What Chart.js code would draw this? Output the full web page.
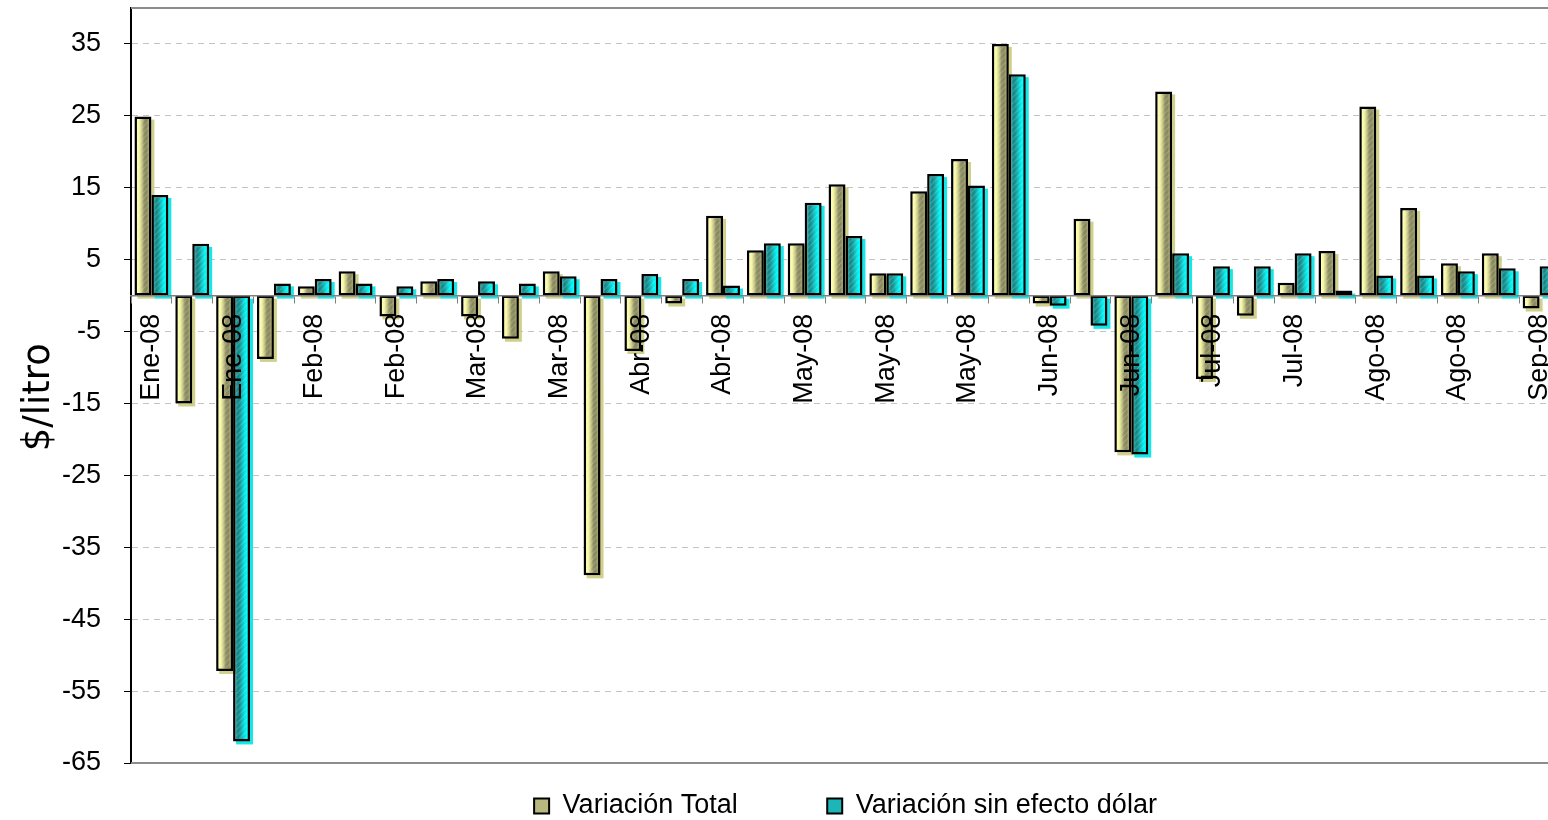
<!DOCTYPE html>
<html>
<head>
<meta charset="utf-8">
<script src="https://cdn.jsdelivr.net/npm/chart.js@4.4.1/dist/chart.umd.min.js"></script>
<style>
  html, body { margin: 0; padding: 0; overflow: hidden; background: #fff; }
  #wrap { width: 1560px; height: 820px; }
</style>
</head>
<body>
<div id="wrap"><canvas id="grafico"></canvas></div>
<script>
// datos (semanas, $/litro)
const categorias = [
  'Ene-08', 'Ene-08', 'Ene-08', 'Feb-08', 'Feb-08', 'Feb-08', 'Feb-08',
  'Mar-08', 'Mar-08', 'Mar-08', 'Mar-08', 'Abr-08', 'Abr-08', 'Abr-08',
  'Abr-08', 'May-08', 'May-08', 'May-08', 'May-08', 'May-08', 'May-08',
  'Jun-08', 'Jun-08', 'Jun-08', 'Jun-08', 'Jul-08', 'Jul-08', 'Jul-08',
  'Jul-08', 'Ago-08', 'Ago-08', 'Ago-08', 'Ago-08', 'Sep-08', 'Sep-08'
];
const variacionTotal = [
  24.9, -15.0, -52.2, -8.8, 1.3, 3.4, -2.9, 2.0, -2.9, -6.0, 3.4, -38.9,
  -7.7, -1.1, 11.1, 6.3, 7.3, 15.5, 3.1, 14.5, 19.0, 35.0, -1.1, 10.7,
  -21.8, 28.4, -11.6, -2.8, 1.8, 6.2, 26.3, 12.2, 4.5, 5.9, -1.8
];
const variacionSinDolar = [
  14.0, 7.2, -62.0, 1.7, 2.3, 1.7, 1.3, 2.3, 2.0, 1.7, 2.7, 2.3,
  3.0, 2.3, 1.4, 7.3, 12.9, 8.3, 3.1, 16.9, 15.3, 30.8, -1.4, -4.2,
  -22.1, 5.9, 4.1, 4.1, 5.9, 0.7, 2.8, 2.8, 3.4, 3.8, 4.1
];
const ticksY = [-65, -55, -45, -35, -25, -15, -5, 5, 15, 25, 35];

const olivos = ['#ffffb4', '#f4f4a4', '#c8c888', '#909064', '#86865c', '#a4a472'];
const cianes = ['#2aa4a4', '#168484', '#169c9c', '#10c4c4', '#04ecec', '#00ffff'];

let patronRayado = null;
function rayado(ctx) {
  if (patronRayado) return patronRayado;
  const c = document.createElement('canvas');
  c.width = c.height = 6;
  const g = c.getContext('2d');
  g.strokeStyle = 'rgba(255,255,255,0.18)';
  g.lineWidth = 1.2;
  g.beginPath();
  g.moveTo(0, 6); g.lineTo(6, 0);
  g.moveTo(-1, 1); g.lineTo(1, -1);
  g.moveTo(5, 7); g.lineTo(7, 5);
  g.stroke();
  patronRayado = ctx.createPattern(c, 'repeat');
  return patronRayado;
}

// sombra desplazada, degradado horizontal por barra y rayado
const estiloBarras = {
  id: 'estiloBarras',
  beforeDatasetsDraw(chart) {
    const { ctx, chartArea: a } = chart;
    ctx.save();
    ctx.beginPath();
    ctx.rect(a.left, a.top, a.right - a.left, a.bottom - a.top);
    ctx.clip();
    chart.data.datasets.forEach((ds, i) => {
      ctx.fillStyle = ds.sombra;
      chart.getDatasetMeta(i).data.forEach(b => {
        const top = Math.min(b.y, b.base);
        ctx.fillRect(b.x - b.width / 2 + 3, top + 3, b.width, Math.abs(b.base - b.y));
        const x0 = b.x - b.width / 2 + 2.5, x1 = b.x + b.width / 2 - 2.5;
        const g = ctx.createLinearGradient(x0, 0, x1, 0);
        ds.degradado.forEach((col, k) => g.addColorStop(k / (ds.degradado.length - 1), col));
        b.options = Object.assign({}, b.options, { backgroundColor: g });
      });
    });
    ctx.restore();
  },
  afterDatasetsDraw(chart) {
    const ctx = chart.ctx;
    ctx.save();
    ctx.fillStyle = rayado(ctx);
    chart.data.datasets.forEach((ds, i) => {
      chart.getDatasetMeta(i).data.forEach(b => {
        const top = Math.min(b.y, b.base) + 3;
        const h = Math.abs(b.base - b.y) - 6;
        if (h > 0) ctx.fillRect(b.x - b.width / 2 + 3, top, b.width - 6, h);
      });
    });
    ctx.restore();
  }
};

const marco = {
  id: 'marco',
  afterDraw(chart) {
    const { ctx, chartArea: a } = chart;
    ctx.save();
    ctx.strokeStyle = '#8c8c8c';
    ctx.lineWidth = 2;
    ctx.beginPath();
    ctx.moveTo(a.left, a.top); ctx.lineTo(a.right, a.top);
    ctx.moveTo(a.left, a.bottom); ctx.lineTo(a.right, a.bottom);
    ctx.stroke();
    ctx.restore();
  }
};

Chart.defaults.font.family = "'Liberation Sans', Arial, sans-serif";
Chart.defaults.color = '#000';

new Chart(document.getElementById('grafico'), {
  type: 'bar',
  data: {
    labels: categorias,
    datasets: [
      {
        label: 'Variación Total',
        data: variacionTotal,
        backgroundColor: '#b8b87e',
        borderColor: '#000',
        borderWidth: 2.5,
        borderSkipped: false,
        degradado: olivos,
        sombra: 'rgba(200,200,120,0.85)'
      },
      {
        label: 'Variación sin efecto dólar',
        data: variacionSinDolar,
        backgroundColor: '#1cb6b6',
        borderColor: '#000',
        borderWidth: 2.5,
        borderSkipped: false,
        degradado: cianes,
        sombra: '#19e6e6'
      }
    ]
  },
  options: {
    responsive: true,
    maintainAspectRatio: false,
    animation: false,
    barPercentage: 1,
    categoryPercentage: 0.83,
    layout: { padding: { top: 8, left: 0, right: 0, bottom: 0 } },
    plugins: {
      tooltip: { enabled: false },
      legend: {
        position: 'bottom',
        fullSize: false,
        maxHeight: 57,
        labels: {
          font: { size: 27 },
          boxWidth: 15,
          boxHeight: 15,
          padding: 29.5,
          generateLabels(chart) {
            return chart.data.datasets.map((ds, i) => ({
              text: ds.label + (i === 0 ? ' '.repeat(8) : ''),
              fillStyle: ds.backgroundColor,
              strokeStyle: '#000',
              lineWidth: 2,
              fontColor: '#000',
              hidden: false,
              datasetIndex: i
            }));
          }
        }
      }
    },
    scales: {
      x: {
        type: 'category',
        position: { y: 0 },
        offset: true,
        afterFit(s) { s.paddingLeft = 0; s.paddingRight = 0; },
        border: { color: '#808080', width: 1.5, z: 1 },
        grid: {
          offset: true,
          drawOnChartArea: false,
          drawTicks: true,
          tickLength: 7,
          color: '#808080',
          z: 1
        },
        ticks: {
          autoSkip: false,
          minRotation: 90,
          maxRotation: 90,
          padding: 11,
          z: 1,
          font: { size: 27 },
          callback: (v, i) => (i % 2 === 0 ? categorias[i] : '')
        }
      },
      y: {
        min: -65,
        max: 40,
        afterBuildTicks(s) { s.ticks = ticksY.map(v => ({ value: v })); },
        afterFit(s) { s.width = 131; s.paddingTop = 0; s.paddingBottom = 0; },
        border: { color: '#000', width: 2, dash: [6, 5] },
        grid: {
          color: c => (c.tick && c.tick.value === -65 ? 'rgba(0,0,0,0)' : '#c4c4c4'),
          tickColor: '#000',
          tickLength: 7,
          tickBorderDash: []
        },
        ticks: {
          padding: 23,
          font: { size: 27 }
        },
        title: {
          display: true,
          text: '$/litro  ',
          font: { family: "'DejaVu Sans', sans-serif", size: 37 },
          padding: { top: 17, bottom: 0 }
        }
      }
    }
  },
  plugins: [estiloBarras, marco]
});
</script>
</body>
</html>
